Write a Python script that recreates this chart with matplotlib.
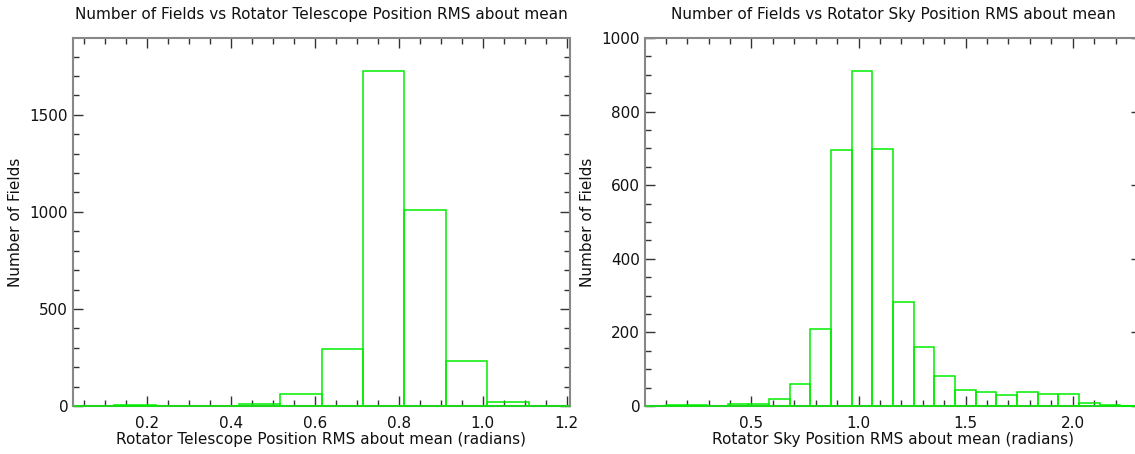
import numpy as np
import matplotlib
matplotlib.use("Agg")
import matplotlib.pyplot as plt
from matplotlib.ticker import MultipleLocator, FormatStrFormatter

# ---- data ----
tel_min, tel_max = 0.0228, 1.208
tel_counts = [1, 3, 1, 1, 12, 61, 295, 1723, 1009, 232, 21, 2]

sky_min, sky_max = 0.003, 2.319
sky_counts = [1, 2, 3, 1, 5, 6, 18, 59, 210, 697, 909, 698, 282, 160, 81, 44,
              37, 29, 37, 32, 33, 7, 2, 1]

left_title = "Number of Fields vs Rotator Telescope Position RMS about mean"
left_xlabel = "Rotator Telescope Position RMS about mean (radians)"
right_title = "Number of Fields vs Rotator Sky Position RMS about mean"
right_xlabel = "Rotator Sky Position RMS about mean (radians)"
ylabel = "Number of Fields"

plt.rcParams['font.family'] = ['DejaVu Sans']

fig = plt.figure(figsize=(11.35, 4.54), dpi=100)
W, H = 1135, 454
ax1 = fig.add_axes([73 / W, (H - 406) / H, 497 / W, 368 / H])
ax2 = fig.add_axes([645 / W, (H - 406) / H, 496 / W, 368 / H])

GREEN = '#00ee00'
FS = 11


def draw(ax, vmin, vmax, counts, title, xlabel, xmaj, xmin_, ymaj, ymin_):
    edges = np.linspace(vmin, vmax, len(counts) + 1)
    bars = ax.bar(edges[:-1], counts, width=np.diff(edges), align='edge',
                  facecolor='none', edgecolor=GREEN, linewidth=1.1, zorder=3)
    for b in bars:
        b.set_clip_on(False)
    ax.set_xlim(vmin, vmax)
    ax.set_ylim(0, 1.1 * max(counts))
    ax.set_title(title, fontsize=FS, color='#111111', pad=14)
    ax.set_xlabel(xlabel, fontsize=FS, color='#111111', labelpad=1)
    ax.set_ylabel(ylabel, fontsize=FS, color='#111111', labelpad=5)
    ax.xaxis.set_major_locator(MultipleLocator(xmaj))
    ax.xaxis.set_minor_locator(MultipleLocator(xmin_))
    ax.xaxis.set_major_formatter(FormatStrFormatter('%.1f'))
    ax.yaxis.set_major_locator(MultipleLocator(ymaj))
    ax.yaxis.set_minor_locator(MultipleLocator(ymin_))
    ax.tick_params(which='both', direction='in', top=True, right=True,
                   colors='#333333', labelcolor='#111111', labelsize=FS)
    ax.tick_params(which='major', length=7, width=1)
    ax.tick_params(which='minor', length=4, width=1)
    ax.tick_params(axis='x', pad=7)
    for s in ax.spines.values():
        s.set_color('#888888')
        s.set_linewidth(1.5)


draw(ax1, tel_min, tel_max, tel_counts, left_title, left_xlabel,
     0.2, 0.05, 500, 100)
draw(ax2, sky_min, sky_max, sky_counts, right_title, right_xlabel,
     0.5, 0.1, 200, 50)
ax2.set_ylim(0, 1000)

fig.savefig("out.png", dpi=100)
